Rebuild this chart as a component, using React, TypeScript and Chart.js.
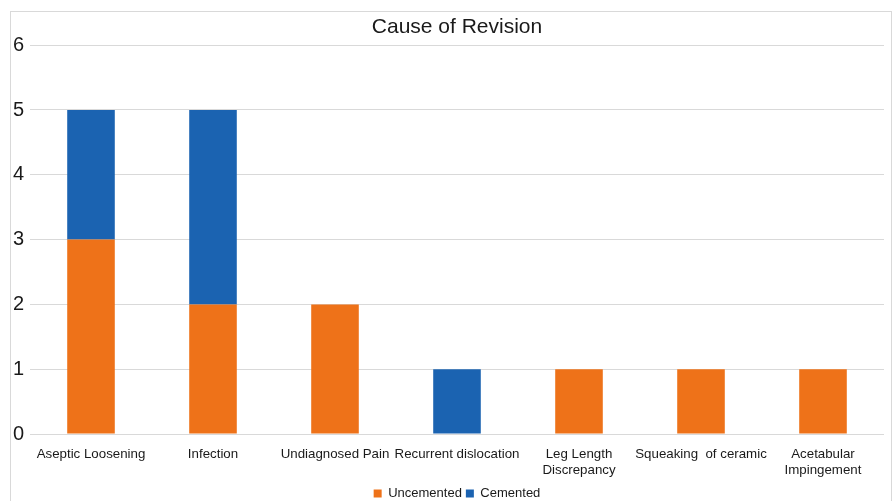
import React, { useEffect, useRef } from "react";
import { Chart, registerables } from "chart.js";

Chart.register(...registerables);

const categories: (string | string[])[] = [
  "Aseptic Loosening",
  "Infection",
  "Undiagnosed Pain",
  "Recurrent dislocation",
  ["Leg Length", "Discrepancy"],
  "Squeaking  of ceramic",
  ["Acetabular", "Impingement"],
];
const uncemented = [3, 2, 2, 0, 1, 1, 1];
const cemented = [2, 3, 0, 1, 0, 0, 0];
const yTicks = [0, 1, 2, 3, 4, 5, 6];

const FONT = "'Liberation Sans', Arial, sans-serif";

export default function App() {
  const ref = useRef<HTMLCanvasElement>(null);

  useEffect(() => {
    if (!ref.current) return;
    const chart = new Chart(ref.current, {
      type: "bar",
      data: {
        labels: categories,
        datasets: [
          {
            label: "Uncemented",
            data: uncemented,
            backgroundColor: "#EE7219",
            barPercentage: 0.39,
            categoryPercentage: 1,
          },
          {
            label: "Cemented",
            data: cemented,
            backgroundColor: "#1B63B1",
            barPercentage: 0.39,
            categoryPercentage: 1,
          },
        ],
      },
      options: {
        animation: false,
        responsive: false,
        maintainAspectRatio: false,
        layout: { padding: { left: 0, right: 9, top: 12, bottom: 0 } },
        plugins: {
          title: {
            display: true,
            fullSize: false,
            text: "Cause of Revision",
            color: "#1a1a1a",
            font: { family: FONT, size: 21, weight: "normal" },
            padding: { top: 3, bottom: 5 },
          },
          legend: {
            position: "bottom",
            fullSize: false,
            labels: {
              color: "#1a1a1a",
              font: { family: FONT, size: 13 },
              boxWidth: 8,
              boxHeight: 8,
              padding: 4,
            },
          },
          tooltip: { enabled: false },
        },
        scales: {
          x: {
            stacked: true,
            grid: { display: false },
            border: { display: false },
            ticks: {
              color: "#1a1a1a",
              font: { family: FONT, size: 13.3, lineHeight: 1.15 },
              maxRotation: 0,
              autoSkip: false,
              padding: 5,
            },
            afterFit: (s: any) => {
              s.height = 49;
            },
          },
          y: {
            stacked: true,
            min: 0,
            max: 6,
            afterBuildTicks: (s: any) => {
              s.ticks = yTicks.map((v) => ({ value: v }));
            },
            grid: { color: "#d9d9d9", drawTicks: false },
            border: { display: false },
            ticks: {
              color: "#1a1a1a",
              font: { family: FONT, size: 20 },
              padding: 6,
            },
            afterFit: (s: any) => {
              s.width = 30;
            },
          },
        },
      },
    });
    return () => chart.destroy();
  }, []);

  return (
    <div
      style={{
        position: "absolute",
        left: 0,
        top: 0,
        width: 893,
        height: 501,
        overflow: "hidden",
        background: "#fff",
      }}
    >
      <div
        style={{
          position: "absolute",
          left: 10,
          top: 11,
          width: 882,
          height: 495,
          border: "1px solid #d9d9d9",
          boxSizing: "border-box",
        }}
      />
      <canvas ref={ref} width={893} height={510} style={{ position: "absolute", left: 0, top: 0 }} />
    </div>
  );
}
